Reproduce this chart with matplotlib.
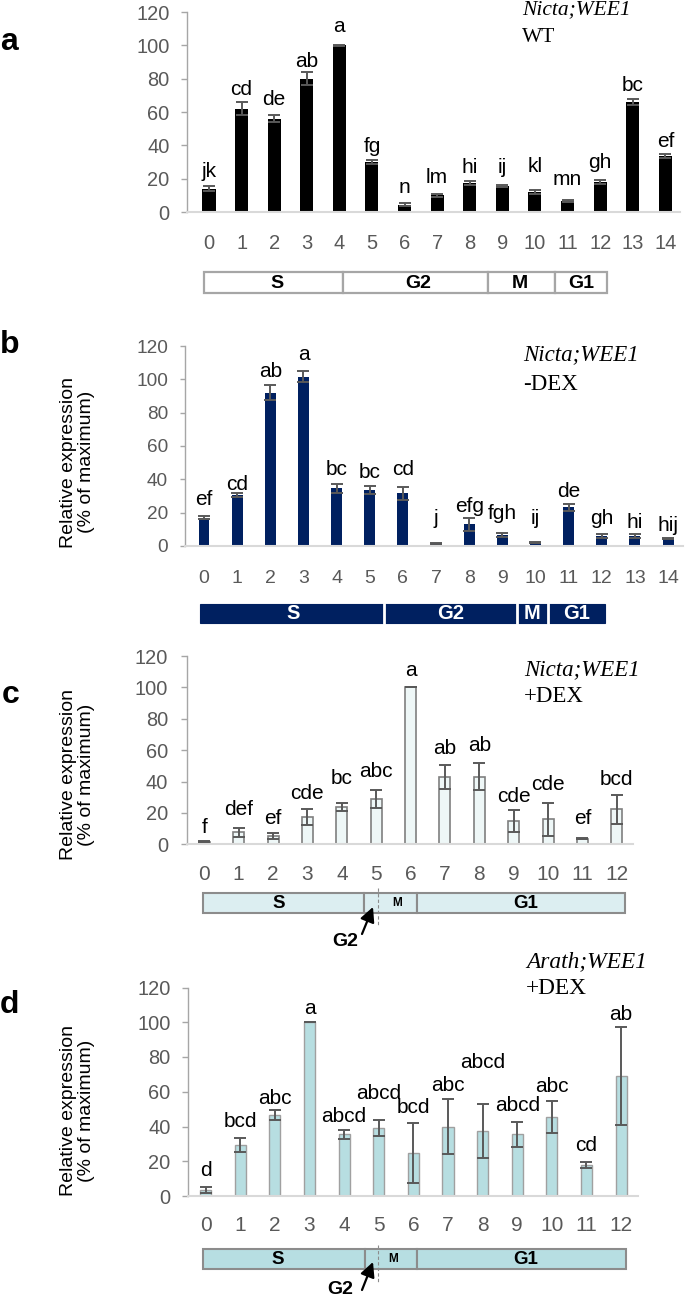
import matplotlib
matplotlib.use('Agg')
import matplotlib.pyplot as plt
from matplotlib.patches import Rectangle

plt.rcParams['font.family'] = ['Liberation Sans', 'DejaVu Sans']

# ---------------- data ----------------
hours_15 = list(range(15))
hours_13 = list(range(13))

wt_mean = [14, 62, 56, 80, 100, 30, 4.4, 10, 17.6, 15.6, 12, 6.8, 18, 66, 33.6]
wt_err = [1.5, 4, 2, 4, 0.5, 1, 0.8, 1, 1.3, 0.8, 1.1, 0.5, 1, 2, 1]
wt_letters = ['jk', 'cd', 'de', 'ab', 'a', 'fg', 'n', 'lm', 'hi', 'ij', 'kl', 'mn', 'gh', 'bc', 'ef']
wt_letter_y = [21.2, 70.2, 64.2, 87.2, 108.2, 36.2, 11.2, 17.2, 23.6, 23.6, 24, 16.2, 26.2, 72.8, 39.2]

mdex_mean = [17, 30.6, 92, 101.6, 34.6, 33.6, 31.6, 1.6, 13, 6.6, 2.4, 23.2, 6, 6, 4.4]
mdex_err = [1, 1, 4.5, 3.3, 2.8, 2.6, 3.8, 0.3, 4, 1.4, 0.3, 2.3, 1.4, 1.2, 0.3]
mdex_letters = ['ef', 'cd', 'ab', 'a', 'bc', 'bc', 'cd', 'j', 'efg', 'fgh', 'ij', 'de', 'gh', 'hi', 'hij']
mdex_letter_y = [24.6, 33.6, 101.2, 111.6, 42.6, 40.6, 42.6, 13, 20.2, 16, 13, 29.6, 13.2, 10.6, 9]

pdex_mean = [1.7, 7.6, 5.5, 17.6, 24, 29, 100, 43, 43, 14.9, 16, 3.6, 22.3]
pdex_err = [0.3, 2.9, 2, 5, 2.5, 5.8, 0, 7.6, 8.7, 7, 10.5, 0.3, 9.2]
pdex_letters = ['f', 'def', 'ef', 'cde', 'bc', 'abc', 'a', 'ab', 'ab', 'cde', 'cde', 'ef', 'bcd']
pdex_letter_y = [7.0, 18.7, 12.7, 28.7, 38.4, 43.1, 107.3, 57.6, 59.7, 27.2, 34.6, 12.7, 37.8]

arath_mean = [3.5, 29.3, 46.6, 100, 35.5, 39.1, 24.5, 39.9, 37.4, 35.5, 45.6, 17.8, 69]
arath_err = [1.9, 4.1, 2.8, 0, 2.6, 4.4, 17.3, 15.9, 15.5, 7.3, 9.2, 1.7, 28]
arath_letters = ['d', 'bcd', 'abc', 'a', 'abcd', 'abcd', 'bcd', 'abc', 'abcd', 'abcd', 'abc', 'cd', 'ab']
arath_letter_y = [11.5, 39.9, 52.7, 105, 42.7, 55.8, 47.5, 60.6, 73.8, 49.1, 60, 26.1, 101.2]

y_ticks = [0, 20, 40, 60, 80, 100, 120]

# ---------------- layout ----------------
W, H = 685, 1298
fig = plt.figure(figsize=(W / 100, H / 100), dpi=100)

GREY_TXT = '#595959'
ERR_C = '#595959'
PX = 100 / 72.0  # pixels per point


def axes_px(left, top, right, bottom):
    return fig.add_axes([left / W, 1 - bottom / H, (right - left) / W, (bottom - top) / H])


def style_axes(ax, xlim, ytick_fs, ytick_pad, ticklen):
    ax.set_xlim(*xlim)
    ax.set_ylim(0, 120)
    ax.set_yticks(y_ticks)
    ax.set_yticklabels([str(v) for v in y_ticks])
    for s in ['top', 'right']:
        ax.spines[s].set_visible(False)
    ax.spines['left'].set_color('#A6A6A6')
    ax.spines['left'].set_linewidth(1.0)
    ax.spines['bottom'].set_color('#D9D9D9')
    ax.spines['bottom'].set_linewidth(1.5)
    ax.tick_params(axis='y', colors='#A6A6A6', labelcolor=GREY_TXT, labelsize=ytick_fs,
                   length=ticklen, width=1.0, pad=ytick_pad)
    ax.patch.set_alpha(0)


def xlabels(ax, hours, fs, center_y, bottom_y):
    ax.set_xticks(hours)
    ax.set_xticklabels([str(h) for h in hours])
    ax.tick_params(axis='x', length=0, labelsize=fs, labelcolor=GREY_TXT,
                   pad=(center_y - 0.36 * fs * PX - bottom_y) / PX)


def draw_panel(ax, x, mean, err, letters, letter_y, width, fc, ec, lw, capsize, letter_fs):
    ax.bar(x, mean, width=width, color=fc, edgecolor=ec, linewidth=lw, zorder=2)
    ax.errorbar(x, mean, yerr=err, fmt='none', ecolor=ERR_C, elinewidth=1.4,
                capsize=capsize, capthick=1.4, zorder=3)
    for xi, s, yy in zip(x, letters, letter_y):
        ax.text(xi, yy, s, ha='center', va='baseline', fontsize=letter_fs, color='black')


# Panel a
ax_a = axes_px(187, 12, 680, 212)
style_axes(ax_a, (-0.675, 14.45), 14.4, 8.6, 4.0)
draw_panel(ax_a, hours_15, wt_mean, wt_err, wt_letters, wt_letter_y, 0.4, 'black', 'black', 0,
           4.3, 15)
xlabels(ax_a, hours_15, 14.5, 241, 212)

# Panel b
ax_b = axes_px(185, 346, 683, 546)
style_axes(ax_b, (-0.573, 14.45), 13.7, 8.6, 3.6)
draw_panel(ax_b, hours_15, mdex_mean, mdex_err, mdex_letters, mdex_letter_y, 0.33, '#002060',
           '#002060', 0, 4.3, 15)
xlabels(ax_b, hours_15, 14, 577, 546)

# Panel c
ax_c = axes_px(186.7, 656, 633, 844.3)
style_axes(ax_c, (-0.512, 12.47), 14.4, 9, 4.3)
draw_panel(ax_c, hours_13, pdex_mean, pdex_err, pdex_letters, pdex_letter_y, 0.32, '#EEF7F7',
           '#7F7F7F', 1.2, 4.6, 15)
xlabels(ax_c, hours_13, 15, 872.5, 844.3)

# Panel d
ax_d = axes_px(188.3, 987.5, 638, 1196)
style_axes(ax_d, (-0.503, 12.49), 14.4, 8.6, 4.3)
draw_panel(ax_d, hours_13, arath_mean, arath_err, arath_letters, arath_letter_y, 0.32, '#B7DEE1',
           '#A0A0A0', 1.0, 4.0, 15)
xlabels(ax_d, hours_13, 15, 1223.8, 1196)

# ---------------- overlay (pixel coords) ----------------
ov = fig.add_axes([0, 0, 1, 1])
ov.set_xlim(0, W)
ov.set_ylim(H, 0)
ov.axis('off')

# panel letters
for s, x0, yb in [('a', 0, 50), ('b', 0, 353), ('c', 2, 703), ('d', 0, 1013)]:
    ov.text(x0, yb, s, fontsize=23, fontweight='bold', ha='left', va='baseline')

# y labels
for yc in [462, 775, 1111]:
    ov.text(77.5, yc, 'Relative expression\n(% of maximum)', rotation=90, ha='center',
            va='center', multialignment='center', fontsize=14, color='black', linespacing=1.1)

# gene / treatment annotations
serif = ['Liberation Serif', 'DejaVu Serif']
for x0, y1, y2, name, cond, fs in [(522, 10, 38, 'Nicta;WEE1', 'WT', 15.5),
                                   (523, 355, 384, 'Nicta;WEE1', '-DEX', 16.5),
                                   (524, 670, 697, 'Nicta;WEE1', '+DEX', 16.5),
                                   (526, 962, 989, 'Arath;WEE1', '+DEX', 16.8)]:
    ov.text(x0, y1, name, family=serif, style='italic', fontsize=fs, ha='left', va='center')
    ov.text(x0, y2, cond, family=serif, fontsize=fs, ha='left', va='center')


def phase_box(edges, top, bottom, names, centers, sizes, fc, ec, tc, lw, sep_c=None):
    for i in range(len(edges) - 1):
        ov.add_patch(Rectangle((edges[i], top), edges[i + 1] - edges[i], bottom - top,
                               facecolor=fc, edgecolor=ec, linewidth=lw))
    if sep_c is not None:
        for e in edges[1:-1]:
            ov.plot([e, e], [top, bottom], color=sep_c, lw=2)
    for n, cx, fs in zip(names, centers, sizes):
        ov.text(cx, (top + bottom) / 2 + 0.5, n, ha='center', va='center', fontsize=fs,
                fontweight='bold', color=tc)


phase_box([204, 343.3, 488.3, 555, 606.7], 272.3, 293.3, ['S', 'G2', 'M', 'G1'],
          [277, 418, 520, 581], [14, 14, 14, 14], 'white', '#A6A6A6', 'black', 1.6)
phase_box([200, 384, 517, 548, 605], 604, 622.7, ['S', 'G2', 'M', 'G1'],
          [293, 451, 532, 577], [14.5, 14.5, 14.5, 14.5], '#002060', '#002060', 'white', 0.8,
          sep_c='white')
phase_box([203.3, 364.3, 417.3, 625], 892.7, 912.7, ['S', 'M', 'G1'],
          [279, 397, 526], [13.5, 8.6, 13.5], '#DCEEF1', '#8C8C8C', 'black', 1.5)
phase_box([202.7, 365, 417.3, 625.7], 1248.7, 1269.3, ['S', 'M', 'G1'],
          [278, 393, 526], [13.5, 8.6, 13.5], '#B7DEE2', '#8C8C8C', 'black', 1.5)

# G2 arrows and dashed lines
for xd, yd0, yd1, tip, tail, txt in [(377.7, 888, 926, (373, 907), (362, 934), (345, 941)),
                                     (378, 1245, 1283, (373, 1262), (362, 1290), (340, 1290))]:
    ov.plot([xd, xd], [yd0, yd1], color='#8C8C8C', lw=0.8, ls=(0, (3, 2)))
    ov.annotate('', xy=tip, xytext=tail,
                arrowprops=dict(arrowstyle='-|>', color='black', lw=1.6, mutation_scale=22,
                                shrinkA=0, shrinkB=0))
    ov.text(txt[0], txt[1], 'G2', ha='center', va='center', fontsize=14, fontweight='bold')

fig.savefig('out.png', dpi=100)
